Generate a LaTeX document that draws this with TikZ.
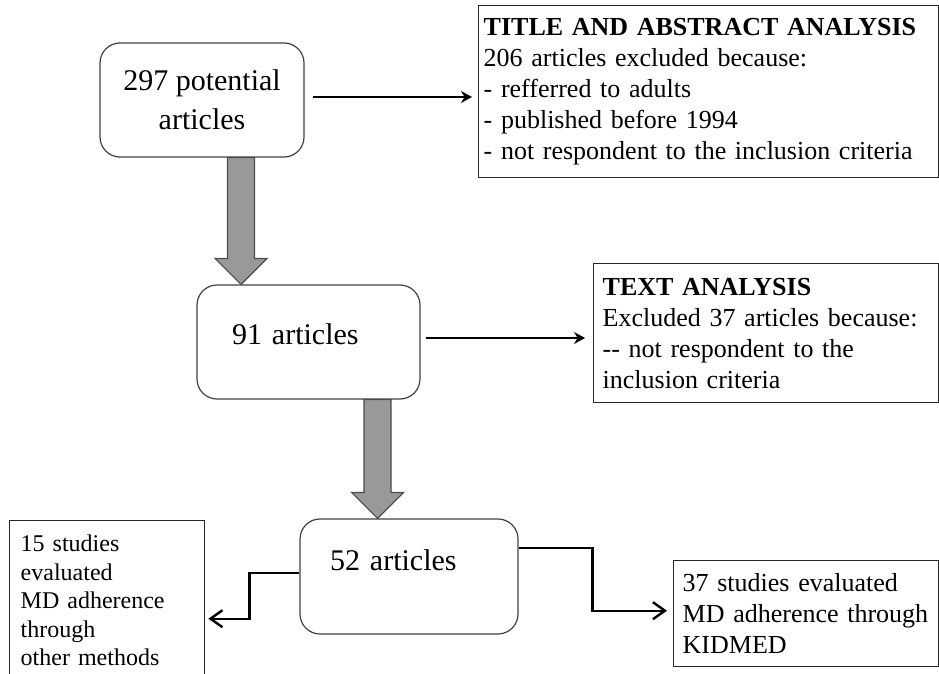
\documentclass[tikz,border=0pt]{standalone}
\usepackage{fontspec}
\setmainfont{Liberation Serif}
\usetikzlibrary{arrows.meta,calc}
\begin{document}
\begin{tikzpicture}[x=1pt, y=-1pt,
    roundbox/.style={draw=black!75, line width=1.2pt, rounded corners=20pt, font=\fontsize{30}{39}\selectfont},
    infobox/.style={draw=black!85, line width=1.4pt, anchor=north west, align=left, font=\fontsize{26}{31}\selectfont},
    thinarr/.style={line width=1.5pt, -{Stealth[length=11pt,width=12pt]}},
    elbowarr/.style={line width=2.4pt, -{Straight Barb[length=12pt,width=17pt]}},
    blockarr/.style={draw=black!70, line width=1.2pt, fill=black!40}]
    \useasboundingbox (0,0) rectangle (939,674);
    \clip (0,0) rectangle (939,674);
    % rounded steps
    \node[roundbox, minimum width=204pt, minimum height=114pt, align=center] (n297) at (202,100) {297 potential\\articles};
    \node[roundbox, minimum width=223pt, minimum height=114pt, align=left, text width=153pt, inner xsep=35pt, text height=20pt, text depth=16pt] (n91) at (308.5,342) {91 articles};
    \node[roundbox, minimum width=218pt, minimum height=115pt, align=left, text width=158pt, inner xsep=30pt, text height=20pt, text depth=33pt] (n52) at (409,576.5) {52 articles};
    % exclusion and result boxes
    \node[infobox, inner xsep=5pt, text width=450pt, minimum height=172pt] (title) at (478,5) {\textbf{TITLE AND ABSTRACT ANALYSIS}\\206 articles excluded because:\\- refferred to adults\\- published before 1994\\- not respondent to the inclusion criteria};
    \node[infobox, inner xsep=9pt, text width=327pt, minimum height=139pt] (textan) at (593,263) {\textbf{TEXT ANALYSIS}\\Excluded 37 articles because:\\-{}- not respondent to the\\inclusion criteria};
    \node[infobox, inner xsep=11pt, text width=173pt, minimum height=160pt, font=\fontsize{24}{28.5}\selectfont] (n15) at (9,520) {15 studies\\evaluated\\MD adherence\\through\\other methods};
    \node[infobox, inner xsep=9pt, text width=247pt, minimum height=106pt] (kid) at (673,560) {37 studies evaluated\\MD adherence through\\KIDMED};
    % thick grey arrows
    \coordinate (s1) at ([xshift=39pt]n297.south);
    \coordinate (t1) at (s1 |- n91.north);
    \coordinate (s2) at ([xshift=69pt]n91.south);
    \coordinate (t2) at (s2 |- n52.north);
    \foreach \s/\t in {s1/t1, s2/t2} {
        \draw[blockarr] ($(\s)+(-13.5,0)$) -- ($(\t)+(-13.5,-26)$) -- ($(\t)+(-26,-26)$) -- (\t)
            -- ($(\t)+(26,-26)$) -- ($(\t)+(13.5,-26)$) -- ($(\s)+(13.5,0)$) -- cycle;
    }
    % thin arrows
    \coordinate (a1) at ([yshift=3pt]n297.east);
    \draw[thinarr, shorten <=8pt, shorten >=6pt] (a1) -- (a1 -| title.west);
    \coordinate (a2) at ([yshift=4pt]n91.east);
    \draw[thinarr, shorten <=5pt, shorten >=8pt] (a2) -- (a2 -| textan.west);
    % split arrows
    \coordinate (a3) at ([yshift=3.5pt]n52.west);
    \draw[elbowarr, shorten >=3pt] (a3) -- ++(-50,0) |- ([yshift=-18pt]n15.east);
    \coordinate (a4) at ([yshift=28.5pt]n52.east);
    \draw[elbowarr, shorten >=6pt] (a4) -- ++(74,0) |- ([yshift=3pt]kid.west);
\end{tikzpicture}
\end{document}
